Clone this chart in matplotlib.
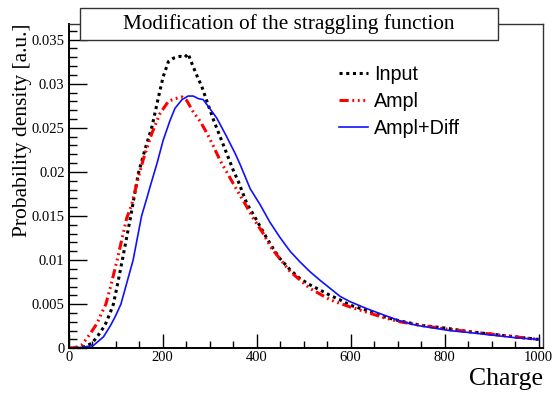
import numpy as np
import matplotlib
matplotlib.use('Agg')
from matplotlib import pyplot as plt
from matplotlib.patches import Rectangle
from matplotlib.ticker import MultipleLocator

# Input (black, dotted)
x_input = [0, 20, 35, 50, 63, 77, 88, 95, 104, 114, 132, 148, 162, 177, 191, 201, 212,
           223, 237, 247, 254, 262, 272, 283, 294, 308, 322, 336, 350, 361, 379, 400,
           418, 435, 449, 471, 492, 513, 535, 556, 577, 598, 634, 669, 705, 750, 800,
           850, 900, 950, 1000]
y_input = [0, 0.00005, 0.0002, 0.0006, 0.0015, 0.0026, 0.0040, 0.0050, 0.0073, 0.0100,
           0.0150, 0.0198, 0.0225, 0.0251, 0.0285, 0.0308, 0.0325, 0.0329, 0.0331, 0.0330,
           0.0334, 0.0323, 0.0310, 0.0297, 0.0280, 0.0259, 0.0240, 0.0221, 0.0202, 0.0189,
           0.0164, 0.0145, 0.0128, 0.0113, 0.0102, 0.0089, 0.0079, 0.0072, 0.0066, 0.0060,
           0.0055, 0.0049, 0.0043, 0.0036, 0.0031, 0.0026, 0.0023, 0.0019, 0.0016, 0.0013,
           0.0010]

# Ampl (red, dash-dot-dot)
x_ampl = [0, 15, 28, 38, 45, 60, 70, 79, 90, 103, 123, 134, 145, 159, 177, 194, 212, 226,
          241, 251, 265, 280, 294, 308, 322, 336, 354, 375, 393, 414, 432, 471, 513, 556,
          598, 669, 705, 750, 800, 850, 900, 950, 1000]
y_ampl = [0, 0.0001, 0.0004, 0.0011, 0.0016, 0.0028, 0.0040, 0.0050, 0.0072, 0.0100,
          0.0147, 0.0163, 0.0187, 0.0215, 0.0244, 0.0266, 0.0280, 0.0283, 0.0285, 0.0281,
          0.0268, 0.0257, 0.0244, 0.0229, 0.0213, 0.0200, 0.0183, 0.0164, 0.0147, 0.0130,
          0.0113, 0.0087, 0.0068, 0.0055, 0.0047, 0.0035, 0.0030, 0.0026, 0.0022, 0.0019,
          0.0016, 0.0013, 0.0010]

# Ampl+Diff (blue, solid)
x_diff = [0, 25, 52, 74, 88, 99, 111, 124, 137, 155, 165, 173, 188, 201, 216, 226, 241,
          254, 265, 276, 286, 300, 315, 336, 354, 365, 386, 407, 428, 449, 471, 492, 513,
          535, 556, 577, 598, 634, 669, 705, 740, 776, 811, 850, 900, 950, 1000]
y_diff = [0, 0.0001, 0.0003, 0.0013, 0.0025, 0.0036, 0.0050, 0.0075, 0.0100, 0.0150,
          0.0168, 0.0183, 0.0210, 0.0236, 0.0259, 0.0272, 0.0282, 0.0286, 0.0286, 0.0283,
          0.0282, 0.0272, 0.0261, 0.0240, 0.0221, 0.0208, 0.0181, 0.0163, 0.0143, 0.0126,
          0.0110, 0.0098, 0.0087, 0.0077, 0.0068, 0.0059, 0.0053, 0.0045, 0.0038, 0.0031,
          0.0026, 0.0023, 0.0020, 0.0018, 0.0015, 0.0012, 0.0010]

serif = ['Liberation Serif', 'DejaVu Serif']
sans = ['Liberation Sans', 'DejaVu Sans']

fig = plt.figure(figsize=(5.52, 3.94), dpi=100)
ax = fig.add_axes([0.1245, 0.116, 0.8583, 0.8231])

ax.plot(x_input, y_input, color='black', lw=2.2, ls=(0, (1, 1.2)), label='Input')
ax.plot(x_ampl, y_ampl, color='red', lw=2.2,
        ls=(0, (3, 1.2, 0.6, 1.2, 0.6, 1.2, 0.6, 1.2)), label='Ampl')
ax.plot(x_diff, y_diff, color='#1010ff', lw=1.2, ls='-', label='Ampl+Diff')

ax.set_xlim(0, 1008)
ax.set_ylim(0, 0.03677)
ax.xaxis.set_major_locator(MultipleLocator(200))
ax.xaxis.set_minor_locator(MultipleLocator(50))
ax.yaxis.set_major_locator(MultipleLocator(0.005))
ax.yaxis.set_minor_locator(MultipleLocator(0.001))
ax.xaxis.set_major_formatter(lambda v, p: '%g' % v)
ax.yaxis.set_major_formatter(lambda v, p: '%g' % round(v, 4))
ax.tick_params(which='both', direction='in', top=False, right=False, width=1)
ax.tick_params(axis='y', which='major', length=13, pad=3)
ax.tick_params(axis='y', which='minor', length=6)
ax.tick_params(axis='x', which='major', length=10, pad=2)
ax.tick_params(axis='x', which='minor', length=5)
for lab in ax.get_xticklabels() + ax.get_yticklabels():
    lab.set_family(serif)
    lab.set_fontsize(10.5)

for s in ['left', 'bottom']:
    ax.spines[s].set_linewidth(1.4)
for s in ['top', 'right']:
    ax.spines[s].set_linewidth(1.0)
    ax.spines[s].set_color('#333333')

ax.set_ylabel('Probability density [a.u.]', family=serif, fontsize=15.5, loc='top')
ax.yaxis.set_label_coords(-0.0775, 1.0)
fig.text(0.984, 0.0228, 'Charge', family=serif, fontsize=18.5, ha='right', va='baseline')

# title box
fig.patches.append(Rectangle((80 / 552, 1 - 40 / 394), 418 / 552, 32 / 394,
                             transform=fig.transFigure, facecolor='white',
                             edgecolor='#333333', lw=1.0, zorder=5))
fig.text(289 / 552, 1 - 24 / 394, 'Modification of the straggling function',
         family=serif, fontsize=15.3, ha='center', va='center', zorder=6)

leg = ax.legend(loc='upper left', bbox_to_anchor=(0.5705, 0.875), frameon=False,
                prop={'family': sans, 'size': 14.2}, handlelength=1.47,
                handletextpad=0.3, labelspacing=0.42, borderaxespad=0, borderpad=0)

fig.savefig('out.png', dpi=100)
